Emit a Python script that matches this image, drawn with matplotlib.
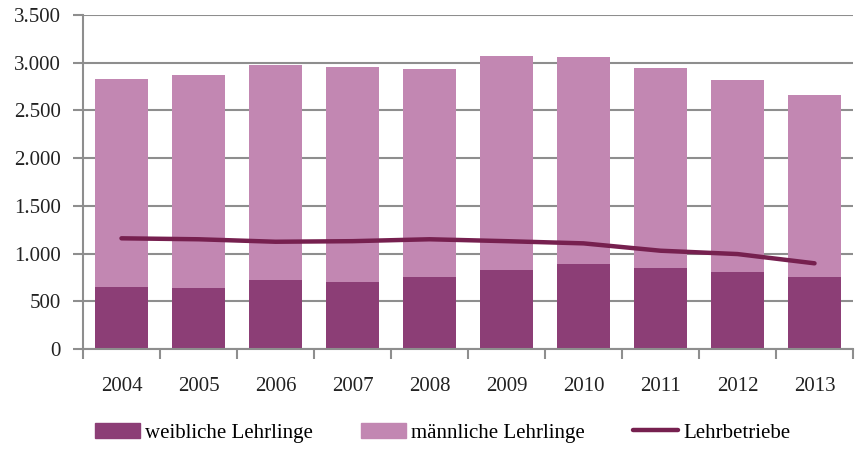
import matplotlib
matplotlib.use("Agg")
import matplotlib.pyplot as plt
from matplotlib.ticker import FuncFormatter, FixedLocator
from matplotlib.patches import Patch
from matplotlib.lines import Line2D
import numpy as np

years = ["2004", "2005", "2006", "2007", "2008", "2009", "2010", "2011", "2012", "2013"]
female = [653, 642, 723, 702, 755, 828, 891, 849, 810, 751]
total = [2830, 2871, 2976, 2955, 2934, 3070, 3055, 2945, 2815, 2665]
male = [t - f for t, f in zip(total, female)]
betriebe = [1160, 1150, 1124, 1130, 1150, 1130, 1107, 1030, 995, 898]

c_dark = "#8C3E76"
c_light = "#C287B2"
c_line = "#76204F"
c_grid = "#8E8E8E"

plt.rcParams['font.family'] = ['Liberation Serif', 'DejaVu Serif']

fig = plt.figure(figsize=(8.58, 4.5), dpi=100)
ax = fig.add_axes([0.0967, 0.2244, 0.8975, 0.7423])

x = np.arange(len(years))
w = 0.69
ax.bar(x, female, w, color=c_dark, zorder=2, label="weibliche Lehrlinge")
ax.bar(x, male, w, bottom=female, color=c_light, zorder=2, label="männliche Lehrlinge")
ax.plot(x, betriebe, color=c_line, lw=3.2, solid_capstyle='round', zorder=3, label="Lehrbetriebe")

ax.set_xlim(-0.5, len(years) - 0.5)
ax.set_ylim(0, 3500)
ax.set_yticks(np.arange(0, 3501, 500))
ax.yaxis.set_major_formatter(FuncFormatter(lambda v, p: f"{int(v):,}".replace(",", ".")))
ax.grid(axis='y', color=c_grid, lw=1.5, zorder=0)
ax.set_axisbelow(True)

ax.set_xticks(x)
ax.set_xticklabels(years)
ax.xaxis.set_minor_locator(FixedLocator(np.arange(-0.5, len(years), 1.0)))
ax.tick_params(axis='x', which='major', length=0, pad=20, labelsize=15, colors='#222222')
ax.tick_params(axis='x', which='minor', length=7, width=1.5, color=c_grid, direction='out')
ax.tick_params(axis='y', length=7, width=1.5, color=c_grid, pad=9, labelsize=15, labelcolor='#222222')

for s in ['top', 'right']:
    ax.spines[s].set_visible(False)
for s in ['left', 'bottom']:
    ax.spines[s].set_color(c_grid)
    ax.spines[s].set_linewidth(1.5)

handles = [Patch(color=c_dark, label="weibliche Lehrlinge"),
           Patch(color=c_light, label="männliche Lehrlinge"),
           Line2D([0], [0], color=c_line, lw=3.2, solid_capstyle='round', label="Lehrbetriebe")]
fig.legend(handles=handles, loc='center', bbox_to_anchor=(0.516, 0.038), ncol=3, frameon=False,
           fontsize=15, handlelength=2.15, handleheight=0.7, handletextpad=0.25, columnspacing=2.3)

fig.savefig("out.png", dpi=100)
